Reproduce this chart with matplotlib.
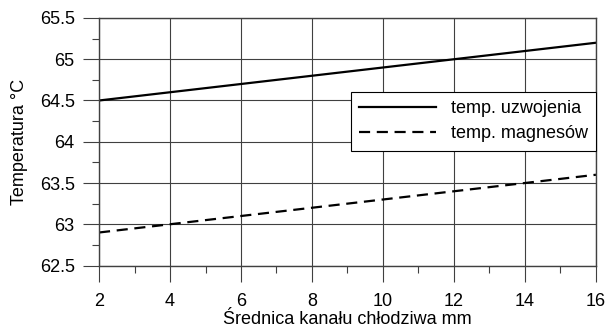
import matplotlib
matplotlib.use("Agg")
import matplotlib.pyplot as plt
from matplotlib.ticker import MultipleLocator, FuncFormatter

plt.rcParams["font.family"] = ["Liberation Sans", "DejaVu Sans"]

# średnica kanału [mm] vs temperatura [°C]
diameter = [2, 4, 6, 8, 10, 12, 14, 16]
temp_winding = [64.5, 64.6, 64.7, 64.8, 64.9, 65.0, 65.1, 65.2]
temp_magnets = [62.9, 63.0, 63.1, 63.2, 63.3, 63.4, 63.5, 63.6]

GRID = "#404040"
FS = 13

fig = plt.figure(figsize=(6.06, 3.29), dpi=100)
ax = fig.add_axes([0.1634, 0.1930, 0.82, 0.7523])

ax.plot(diameter, temp_winding, "-", color="black", lw=1.6, label="temp. uzwojenia")
ax.plot(diameter, temp_magnets, "--", color="black", lw=1.6, dashes=(5, 3),
        label="temp. magnesów")

ax.set_xlim(2, 16)
ax.set_ylim(62.5, 65.5)
ax.xaxis.set_major_locator(MultipleLocator(2))
ax.xaxis.set_minor_locator(MultipleLocator(1))
ax.yaxis.set_major_locator(MultipleLocator(0.5))
ax.yaxis.set_minor_locator(MultipleLocator(0.25))
ax.yaxis.set_major_formatter(FuncFormatter(lambda v, _: f"{v:g}"))

# grid lines at the limits are drawn as the frame
for s in ax.spines.values():
    s.set_color(GRID)
    s.set_linewidth(1.0)
ax.grid(True, which="major", color=GRID, lw=0.8)
ax.tick_params(which="major", direction="out", length=11.5, width=0.8, color=GRID,
               labelsize=FS, pad=6)
ax.tick_params(which="minor", direction="out", length=5, width=0.8, color=GRID)
ax.tick_params(axis="x", which="major", pad=8)

ax.set_xlabel("Średnica kanału chłodziwa mm", fontsize=FS, va="center")
ax.xaxis.set_label_coords(0.5, -0.22)
ax.set_ylabel("Temperatura °C", fontsize=FS, va="center")
ax.yaxis.set_label_coords(-0.161, 0.5)

leg = ax.legend(loc="upper right", bbox_to_anchor=(1.0, 0.70), fontsize=FS,
                handlelength=4.3, fancybox=False, framealpha=1, edgecolor="black",
                borderaxespad=0, labelspacing=0.45, borderpad=0.45)
leg.get_frame().set_linewidth(0.8)

fig.savefig("out.png", dpi=100)
